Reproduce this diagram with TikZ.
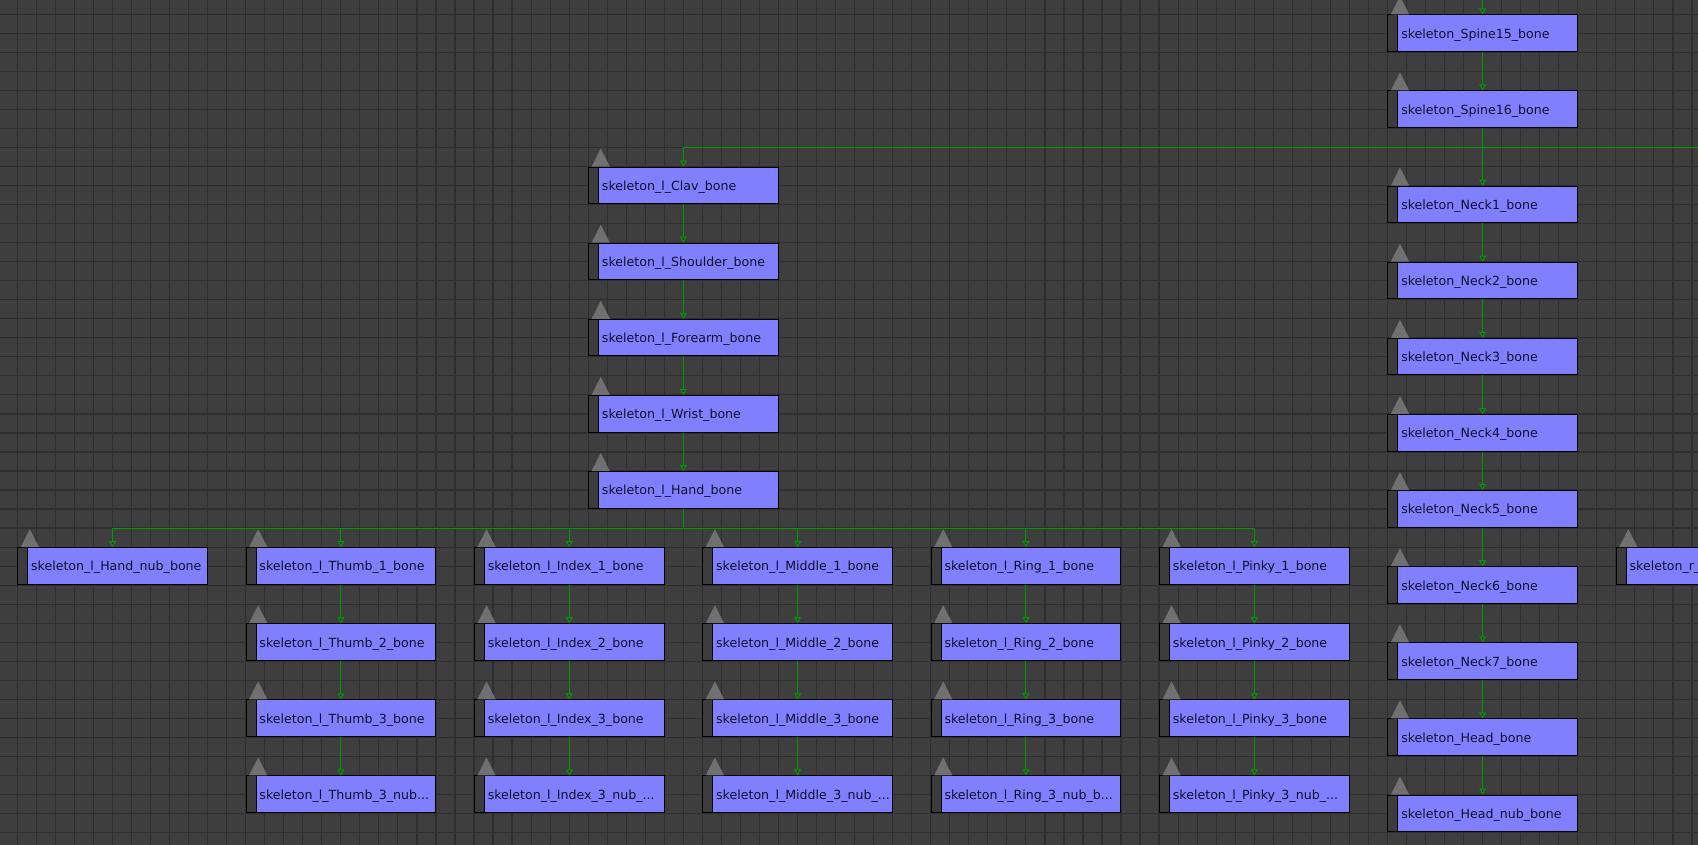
\documentclass[tikz,border=0pt]{standalone}
\usepackage{fontspec}
\newfontfamily\bonefont{DejaVu Sans}
\usepackage{tikz}
\usetikzlibrary{arrows.meta}

\definecolor{canvas}{HTML}{3E3E3E}
\definecolor{gridcol}{HTML}{2F2F2F}
\definecolor{bonefill}{HTML}{8080FF}
\definecolor{stripfill}{HTML}{3C3C3C}
\definecolor{bonetext}{HTML}{10102E}
\definecolor{linkgreen}{HTML}{009A00}
\definecolor{trigray}{HTML}{707070}

\begin{document}
\begin{tikzpicture}[x=19.03pt,y=-19.03pt,
    bone/.style={draw=black, line width=1pt, fill=bonefill, anchor=north west,
        minimum width=189.5pt, minimum height=36.7pt, inner ysep=0pt, inner xsep=13.3pt,
        text width=162.9pt, align=left, text height=10pt, text depth=0pt, text=bonetext,
        font={\bonefont\fontsize{12.6}{14}\selectfont\hyphenpenalty=10000\exhyphenpenalty=10000},
        path picture={\fill[stripfill] (path picture bounding box.north west) rectangle ([xshift=10pt]path picture bounding box.south west);
            \draw[black, line width=1pt] ([xshift=10pt]path picture bounding box.north west) -- ([xshift=10pt]path picture bounding box.south west);}},
    link/.style={draw=linkgreen, line width=1pt, -{Triangle[open,width=7pt,length=6pt]}},
    wire/.style={draw=linkgreen, line width=1pt},
    gridline/.style={draw=gridcol, line width=1.2pt},
    tri/.style={fill=trigray}]

    % canvas and grid
    \useasboundingbox (-0.909,-0.751) rectangle (88.32,43.65);
    \clip (-0.909,-0.751) rectangle (88.32,43.65);
    \fill[canvas] (-0.909,-0.751) rectangle (88.32,43.65);
    \foreach \i in {-1,...,89} \draw[gridline] (\i,-1) -- (\i,44);
    \foreach \j in {-1,...,44} \draw[gridline] (-1,\j) -- (89,\j);

    % spine and neck column
    \node[bone] (spine15) at (72,0) {skeleton\_Spine15\_bone};
    \node[bone] (spine16) at (72,4) {skeleton\_Spine16\_bone};
    \node[bone] (neck1) at (72,9) {skeleton\_Neck1\_bone};
    \node[bone] (neck2) at (72,13) {skeleton\_Neck2\_bone};
    \node[bone] (neck3) at (72,17) {skeleton\_Neck3\_bone};
    \node[bone] (neck4) at (72,21) {skeleton\_Neck4\_bone};
    \node[bone] (neck5) at (72,25) {skeleton\_Neck5\_bone};
    \node[bone] (neck6) at (72,29) {skeleton\_Neck6\_bone};
    \node[bone] (neck7) at (72,33) {skeleton\_Neck7\_bone};
    \node[bone] (head) at (72,37) {skeleton\_Head\_bone};
    \node[bone] (headnub) at (72,41) {skeleton\_Head\_nub\_bone};
    \node[bone] (rhandnub) at (84,28) {skeleton\_r\_Hand\_nub\_bone};

    % left arm column
    \node[bone] (lclav) at (30,8) {skeleton\_l\_Clav\_bone};
    \node[bone] (lshoulder) at (30,12) {skeleton\_l\_Shoulder\_bone};
    \node[bone] (lforearm) at (30,16) {skeleton\_l\_Forearm\_bone};
    \node[bone] (lwrist) at (30,20) {skeleton\_l\_Wrist\_bone};
    \node[bone] (lhand) at (30,24) {skeleton\_l\_Hand\_bone};

    % left hand row
    \node[bone] (lhandnub) at (0,28) {skeleton\_l\_Hand\_nub\_bone};
    \node[bone] (lthumbA) at (12,28) {skeleton\_l\_Thumb\_1\_bone};
    \node[bone] (lthumbB) at (12,32) {skeleton\_l\_Thumb\_2\_bone};
    \node[bone] (lthumbC) at (12,36) {skeleton\_l\_Thumb\_3\_bone};
    \node[bone] (lthumbN) at (12,40) {skeleton\_l\_Thumb\_3\_nub...};
    \node[bone] (lindexA) at (24,28) {skeleton\_l\_Index\_1\_bone};
    \node[bone] (lindexB) at (24,32) {skeleton\_l\_Index\_2\_bone};
    \node[bone] (lindexC) at (24,36) {skeleton\_l\_Index\_3\_bone};
    \node[bone] (lindexN) at (24,40) {skeleton\_l\_Index\_3\_nub\_...};
    \node[bone] (lmiddleA) at (36,28) {skeleton\_l\_Middle\_1\_bone};
    \node[bone] (lmiddleB) at (36,32) {skeleton\_l\_Middle\_2\_bone};
    \node[bone] (lmiddleC) at (36,36) {skeleton\_l\_Middle\_3\_bone};
    \node[bone] (lmiddleN) at (36,40) {skeleton\_l\_Middle\_3\_nub\_...};
    \node[bone] (lringA) at (48,28) {skeleton\_l\_Ring\_1\_bone};
    \node[bone] (lringB) at (48,32) {skeleton\_l\_Ring\_2\_bone};
    \node[bone] (lringC) at (48,36) {skeleton\_l\_Ring\_3\_bone};
    \node[bone] (lringN) at (48,40) {skeleton\_l\_Ring\_3\_nub\_b...};
    \node[bone] (lpinkyA) at (60,28) {skeleton\_l\_Pinky\_1\_bone};
    \node[bone] (lpinkyB) at (60,32) {skeleton\_l\_Pinky\_2\_bone};
    \node[bone] (lpinkyC) at (60,36) {skeleton\_l\_Pinky\_3\_bone};
    \node[bone] (lpinkyN) at (60,40) {skeleton\_l\_Pinky\_3\_nub\_...};

    % grey markers above the bones
    \foreach \b in {spine15,spine16,neck1,neck2,neck3,neck4,neck5,neck6,neck7,head,headnub,rhandnub,
        lclav,lshoulder,lforearm,lwrist,lhand,lhandnub,
        lthumbA,lthumbB,lthumbC,lthumbN,lindexA,lindexB,lindexC,lindexN,
        lmiddleA,lmiddleB,lmiddleC,lmiddleN,lringA,lringB,lringC,lringN,
        lpinkyA,lpinkyB,lpinkyC,lpinkyN}
        \fill[tri] ([xshift=3.4pt]\b.north west) -- ([xshift=21.7pt]\b.north west) -- ([xshift=12.5pt,yshift=18pt]\b.north west) -- cycle;

    % bus rows
    \coordinate (spinebus) at (0,7);
    \coordinate (handbus) at (0,27);
    \coordinate (spine14) at ([yshift=40pt]spine15.north);
    \coordinate (rclav) at (92,7);

    % spine links
    \draw[link] (spine14) -- (spine15);
    \draw[link] (spine15) -- (spine16);
    \draw[link] (spine16) -- (neck1);
    \draw[wire] (spine16.south |- spinebus) -- (rclav);
    \draw[link] (spine16.south |- spinebus) -| (lclav.north);
    \draw[link] (neck1) -- (neck2);
    \draw[link] (neck2) -- (neck3);
    \draw[link] (neck3) -- (neck4);
    \draw[link] (neck4) -- (neck5);
    \draw[link] (neck5) -- (neck6);
    \draw[link] (neck6) -- (neck7);
    \draw[link] (neck7) -- (head);
    \draw[link] (head) -- (headnub);

    % arm links
    \draw[link] (lclav) -- (lshoulder);
    \draw[link] (lshoulder) -- (lforearm);
    \draw[link] (lforearm) -- (lwrist);
    \draw[link] (lwrist) -- (lhand);

    % hand links
    \draw[link] (lhand.south) -- (lhand.south |- handbus) -| (lhandnub.north);
    \draw[link] (lhand.south |- handbus) -| (lthumbA.north);
    \draw[link] (lhand.south |- handbus) -| (lindexA.north);
    \draw[link] (lhand.south |- handbus) -| (lmiddleA.north);
    \draw[link] (lhand.south |- handbus) -| (lringA.north);
    \draw[link] (lhand.south |- handbus) -| (lpinkyA.north);

    % finger links
    \draw[link] (lthumbA) -- (lthumbB);
    \draw[link] (lthumbB) -- (lthumbC);
    \draw[link] (lthumbC) -- (lthumbN);
    \draw[link] (lindexA) -- (lindexB);
    \draw[link] (lindexB) -- (lindexC);
    \draw[link] (lindexC) -- (lindexN);
    \draw[link] (lmiddleA) -- (lmiddleB);
    \draw[link] (lmiddleB) -- (lmiddleC);
    \draw[link] (lmiddleC) -- (lmiddleN);
    \draw[link] (lringA) -- (lringB);
    \draw[link] (lringB) -- (lringC);
    \draw[link] (lringC) -- (lringN);
    \draw[link] (lpinkyA) -- (lpinkyB);
    \draw[link] (lpinkyB) -- (lpinkyC);
    \draw[link] (lpinkyC) -- (lpinkyN);
\end{tikzpicture}
\end{document}
